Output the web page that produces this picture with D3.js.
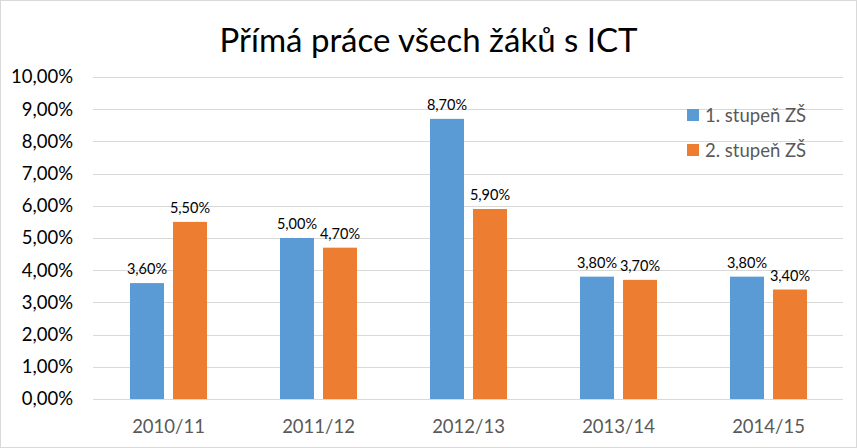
<!DOCTYPE html>
<html>
<head>
<meta charset="utf-8">
<script src="https://cdn.jsdelivr.net/npm/d3@7"></script>
<style>
  body { margin: 0; background: #fff; }
  svg { font-family: Lato, "Open Sans", sans-serif; }
</style>
</head>
<body>
<svg id="chart"></svg>
<script>
// Chart data
const years = ["2010/11", "2011/12", "2012/13", "2013/14", "2014/15"];
const firstStage = [3.6, 5.0, 8.7, 3.8, 3.8];
const secondStage = [5.5, 4.7, 5.9, 3.7, 3.4];
const seriesNames = ["1. stupeň ZŠ", "2. stupeň ZŠ"];
const colors = ["#5b9bd5", "#ed7d31"];
const yTicks = [0, 1, 2, 3, 4, 5, 6, 7, 8, 9, 10];

const width = 857;
const height = 448;

const svg = d3.select("#chart")
  .attr("width", width)
  .attr("height", height);

// Outer frame
svg.append("rect")
  .attr("x", 0.5).attr("y", 0.5)
  .attr("width", width - 1).attr("height", height - 1)
  .attr("fill", "#fff")
  .attr("stroke", "#d9d9d9");

const fmt = v => v.toFixed(2).replace(".", ",") + "%";

// Scales
const x = d3.scaleBand()
  .domain(years)
  .range([93.5, 843.5]);

const xInner = d3.scaleBand()
  .domain([0, 1])
  .range([36.5, 113.5])
  .paddingInner(0.21);

const y = d3.scaleLinear()
  .domain([0, 10])
  .range([399, 77]);

// Gridlines
svg.append("g")
  .selectAll("line")
  .data(yTicks)
  .enter()
  .append("line")
  .attr("x1", 93)
  .attr("x2", 843)
  .attr("y1", d => Math.round(y(d)) + 0.5)
  .attr("y2", d => Math.round(y(d)) + 0.5)
  .attr("stroke", "#d9d9d9")
  .attr("stroke-width", 1);

// Y axis labels
const yAxis = d3.axisLeft(y)
  .tickValues(yTicks)
  .tickFormat(fmt)
  .tickSize(0)
  .tickPadding(0);

svg.append("g")
  .attr("transform", "translate(73,0)")
  .call(yAxis)
  .call(g => g.select(".domain").remove())
  .call(g => g.selectAll("text")
    .attr("font-size", 18.5)
    .attr("fill", "#000")
    .attr("font-family", "Lato, sans-serif"));

// X axis labels
const xAxis = d3.axisBottom(x).tickSize(0).tickPadding(0);
svg.append("g")
  .attr("transform", "translate(0,420)")
  .call(xAxis)
  .call(g => g.select(".domain").remove())
  .call(g => g.selectAll("text")
    .attr("font-size", 18.5)
    .attr("fill", "#595959")
    .attr("font-family", "Lato, sans-serif"));

// Bars
const rows = years.map((yr, i) => [firstStage[i], secondStage[i]]);

const groups = svg.append("g")
  .selectAll("g")
  .data(rows)
  .enter()
  .append("g")
  .attr("transform", (d, i) => `translate(${x(years[i])},0)`);

groups.selectAll("rect")
  .data(d => d.map((v, s) => ({ v, s })))
  .enter()
  .append("rect")
  .attr("x", d => xInner(d.s))
  .attr("width", xInner.bandwidth())
  .attr("y", d => y(d.v))
  .attr("height", d => y(0) - y(d.v))
  .attr("fill", d => colors[d.s]);

groups.selectAll("text")
  .data(d => d.map((v, s) => ({ v, s })))
  .enter()
  .append("text")
  .attr("x", d => xInner(d.s) + xInner.bandwidth() / 2)
  .attr("y", d => y(d.v) - 9)
  .attr("text-anchor", "middle")
  .attr("font-size", 14.5)
  .attr("fill", "#000")
  .text(d => fmt(d.v));

// Title
svg.append("text")
  .attr("x", width / 2)
  .attr("y", 52)
  .attr("text-anchor", "middle")
  .attr("font-size", 33)
  .attr("fill", "#000")
  .text("Přímá práce všech žáků s ICT");

// Legend
const legend = svg.append("g")
  .selectAll("g")
  .data(seriesNames)
  .enter()
  .append("g")
  .attr("transform", (d, i) => `translate(687,${109 + i * 35})`);

legend.append("rect")
  .attr("width", 12)
  .attr("height", 12)
  .attr("fill", (d, i) => colors[i]);

legend.append("text")
  .attr("x", 18)
  .attr("y", 12.5)
  .attr("font-size", 18.5)
  .attr("fill", "#595959")
  .text(d => d);
</script>
</body>
</html>
